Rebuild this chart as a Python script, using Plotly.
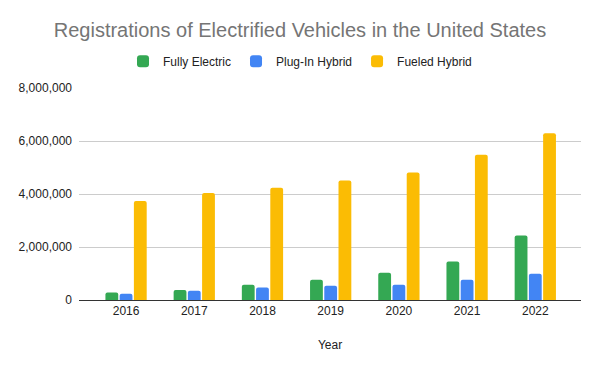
import plotly.graph_objects as go

years = ["2016", "2017", "2018", "2019", "2020", "2021", "2022"]
fully_electric = [280000, 380000, 580000, 760000, 1030000, 1450000, 2430000]
plug_in_hybrid = [240000, 350000, 470000, 540000, 580000, 760000, 990000]
fueled_hybrid = [3740000, 4040000, 4240000, 4510000, 4810000, 5480000, 6290000]
y_ticks = [0, 2000000, 4000000, 6000000, 8000000]

FONT = "Arial, Liberation Sans, sans-serif"

fig = go.Figure()
for name, vals, color in [
    ("Fully Electric", fully_electric, "#34A853"),
    ("Plug-In Hybrid", plug_in_hybrid, "#4285F4"),
    ("Fueled Hybrid", fueled_hybrid, "#FBBC04"),
]:
    fig.add_trace(go.Bar(
        x=years, y=vals, name=name,
        marker=dict(color=color, line=dict(width=0), cornerradius=2),
        hovertemplate="%{x}: %{y:,}<extra>" + name + "</extra>",
    ))

fig.update_layout(
    width=600, height=371,
    margin=dict(l=79, r=19, t=88, b=71, autoexpand=False),
    paper_bgcolor="white", plot_bgcolor="white",
    font=dict(family=FONT, size=12, color="#222222"),
    title=dict(
        text="Registrations of Electrified Vehicles in the United States",
        x=0.5, xref="container", xanchor="center",
        y=0.92, yref="container", yanchor="middle",
        font=dict(family=FONT, size=20, color="#757575"),
    ),
    legend=dict(
        orientation="h", x=0.5, xref="container", xanchor="center",
        y=0.835, yref="container", yanchor="middle",
        font=dict(family=FONT, size=12, color="#222222"),
        itemwidth=30, traceorder="normal",
    ),
    barmode="group", bargap=0.374, bargroupgap=0.1,
    xaxis=dict(
        type="category", range=[-0.69, 6.67],
        showline=True, linecolor="#333333", linewidth=1,
        showgrid=False, ticks="",
        tickfont=dict(family=FONT, size=12, color="#222222"),
        title=dict(text="Year", standoff=23,
                   font=dict(family=FONT, size=12, color="#222222")),
    ),
    yaxis=dict(
        range=[0, 8000000], tickvals=y_ticks, tickformat=",",
        showgrid=True, gridcolor="#CCCCCC", gridwidth=1,
        zeroline=False, showline=False, ticks="", ticklabelstandoff=6,
        tickfont=dict(family=FONT, size=12, color="#222222"),
    ),
)

fig.write_html(
    "out.html",
    config={"displayModeBar": False},
    post_script="document.body.style.margin='0';document.body.style.overflow='hidden';",
)
